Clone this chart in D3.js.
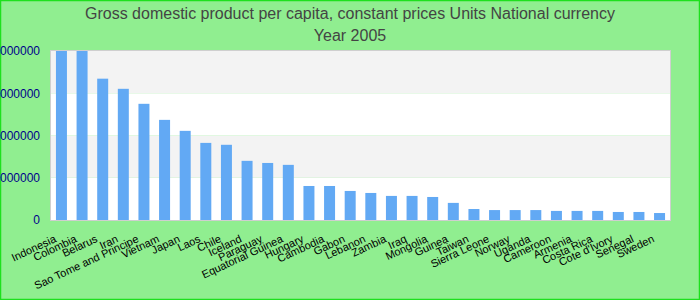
<!DOCTYPE html>
<html>
  <head>
    <meta charset="utf-8">
    <script src="https://d3js.org/d3.v7.min.js"></script>
    <style>
      body {
        margin: 0px;
      }
      .domain {
        display: none;
      }
      .y-axis .tick line {
        display: none;
      }
      .y-axis .tick text {
        fill: #00008b;
        font-size: 12px;
        font-family: Arial, "Liberation Sans", sans-serif;
      }
      .x-label {
        fill: #000;
        font-size: 11px;
        font-family: Arial, "Liberation Sans", sans-serif;
      }
      .title {
        fill: #444;
        font-size: 16px;
        font-family: Arial, "Liberation Sans", sans-serif;
      }
    </style>
  </head>
  <body>
    <svg width="700" height="300"></svg>
    <script>

      const titleLines = [
        'Gross domestic product per capita, constant prices Units National currency',
        'Year 2005'
      ];
      const countries = [
        'Indonesia', 'Colombia', 'Belarus', 'Iran', 'Sao Tome and Principe',
        'Vietnam', 'Japan', 'Laos', 'Chile', 'Iceland', 'Paraguay',
        'Equatorial Guinea', 'Hungary', 'Cambodia', 'Gabon', 'Lebanon',
        'Zambia', 'Iraq', 'Mongolia', 'Guinea', 'Taiwan', 'Sierra Leone',
        'Norway', 'Uganda', 'Cameroon', 'Armenia', 'Costa Rica',
        "Cote d'Ivory", 'Senegal', 'Sweden'
      ];
      const gdpPerCapita = [
        8400000, 8200000, 6690000, 6210000, 5500000,
        4740000, 4220000, 3650000, 3560000, 2800000, 2700000,
        2610000, 1610000, 1610000, 1375000, 1280000,
        1140000, 1140000, 1090000, 810000, 520000, 470000,
        470000, 470000, 430000, 430000, 430000,
        380000, 380000, 330000
      ];
      const yTickValues = [0, 2000000, 4000000, 6000000, 8000000];

      const svg = d3.select('svg');
      const width = +svg.attr('width');
      const height = +svg.attr('height');
      const plot = { left: 51, right: 670, top: 51, bottom: 220 };

      svg.append('rect')
          .attr('x', 0.5).attr('y', 0.5)
          .attr('width', width - 1).attr('height', height - 1)
          .attr('fill', '#90ee90')
          .attr('stroke', '#1ee01e')
          .attr('stroke-width', 1.5);

      svg.selectAll('.title').data(titleLines)
        .enter().append('text')
          .attr('class', 'title')
          .attr('x', width / 2)
          .attr('y', (d, i) => 19 + i * 22)
          .attr('text-anchor', 'middle')
          .text(d => d);

      const xScale = d3.scaleBand()
        .domain(countries)
        .range([plot.left, plot.right])
        .paddingInner(0.467)
        .paddingOuter(0.24);

      const yScale = d3.scaleLinear()
        .domain([0, d3.max(yTickValues)])
        .range([plot.bottom, plot.top]);

      // alternating bands
      const bands = d3.pairs(yTickValues);
      svg.selectAll('.band').data(bands)
        .enter().append('rect')
          .attr('class', 'band')
          .attr('x', plot.left)
          .attr('width', plot.right - plot.left)
          .attr('y', d => yScale(d[1]))
          .attr('height', d => yScale(d[0]) - yScale(d[1]))
          .attr('fill', (d, i) => (bands.length - 1 - i) % 2 === 0 ? '#f3f3f3' : '#ffffff');

      svg.append('clipPath').attr('id', 'plot-clip')
        .append('rect')
          .attr('x', plot.left).attr('y', plot.top)
          .attr('width', plot.right - plot.left)
          .attr('height', plot.bottom - plot.top);

      svg.append('g')
          .attr('clip-path', 'url(#plot-clip)')
        .selectAll('rect').data(countries)
        .enter().append('rect')
          .attr('x', d => xScale(d))
          .attr('width', xScale.bandwidth())
          .attr('y', (d, i) => yScale(gdpPerCapita[i]))
          .attr('height', (d, i) => plot.bottom - yScale(gdpPerCapita[i]))
          .attr('fill', '#62a9f4');

      svg.append('rect')
          .attr('x', plot.left - 0.5).attr('y', plot.top - 0.5)
          .attr('width', plot.right - plot.left + 1)
          .attr('height', plot.bottom - plot.top + 1)
          .attr('fill', 'none')
          .attr('stroke', '#cfcfcf');

      const yAxis = d3.axisLeft(yScale)
        .tickValues(yTickValues)
        .tickFormat(d3.format('d'))
        .tickSize(0)
        .tickPadding(11);

      svg.append('g')
          .attr('class', 'y-axis')
          .attr('transform', `translate(${plot.left},0)`)
          .call(yAxis);

      svg.selectAll('.x-label').data(countries)
        .enter().append('text')
          .attr('class', 'x-label')
          .attr('text-anchor', 'end')
          .attr('transform', d =>
            `translate(${xScale(d) + xScale.bandwidth() / 2 - 4.5},${plot.bottom + 21.5}) rotate(-25)`)
          .text(d => d);
    </script>
  </body>
</html>
